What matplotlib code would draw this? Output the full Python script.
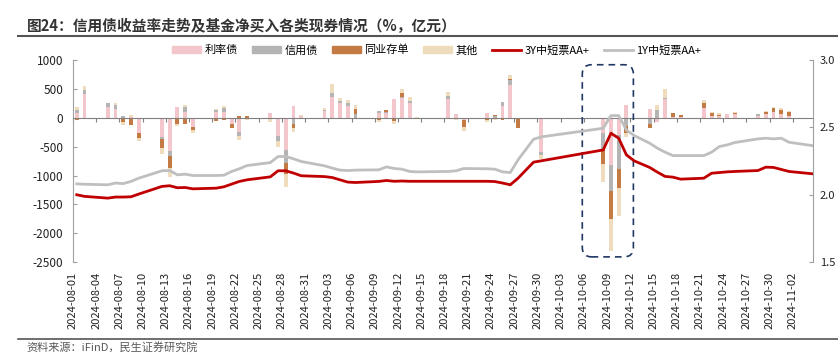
import numpy as np
import pandas as pd
import matplotlib
matplotlib.use('Agg')
import matplotlib.pyplot as plt
import matplotlib.dates as mdates
from matplotlib.patches import FancyBboxPatch, Patch
from matplotlib.lines import Line2D

plt.rcParams['font.family'] = ['Noto Sans CJK SC', 'DejaVu Sans']
plt.rcParams['axes.unicode_minus'] = False

# 交易日
dates = ['08-01', '08-02', '08-05', '08-06', '08-07', '08-08', '08-09',
         '08-12', '08-13', '08-14', '08-15', '08-16',
         '08-19', '08-20', '08-21', '08-22', '08-23',
         '08-26', '08-27', '08-28', '08-29', '08-30',
         '09-02', '09-03', '09-04', '09-05', '09-06',
         '09-09', '09-10', '09-11', '09-12', '09-13', '09-14',
         '09-18', '09-19', '09-20',
         '09-23', '09-24', '09-25', '09-26', '09-27', '09-29', '09-30',
         '10-08', '10-09', '10-10', '10-11', '10-12',
         '10-14', '10-15', '10-16', '10-17', '10-18',
         '10-21', '10-22', '10-23', '10-24', '10-25',
         '10-28', '10-29', '10-30', '10-31', '11-01', '11-04']

# 基金净买入（亿元）
rate_bond = [80, 420, 190, 160, 0, 20, -270,
             -330, -580, 190, 100, -155,
             100, 100, -100, -240, 0,
             80, -310, -560, 210, 30,
             115, 365, 260, 210, 0,
             85, 85, 325, 335, 250, 0,
             325, 60, -30,
             75, 0, 210, 565, 0, 0, -590,
             -260, -810, -290, 230, 0,
             160, -70, 318, 15, 10,
             175, 35, 30, 65, 60,
             30, 60, 105, 70, 35, 0]
credit_bond = [50, 60, 70, 70, 30, 0, 0,
               -40, -80, 0, 85, 0,
               30, 70, 0, -75, 0,
               0, -100, -230, -115, 0,
               20, 70, 40, 40, 60,
               35, 10, 0, 30, 40, 0,
               45, 0, 0,
               0, 30, 60, 85, 0, 0, -60,
               -275, -460, -600, -150, 0,
               -100, 130, 30, 0, 0,
               0, 0, 0, 0, 0,
               35, 0, 0, 0, 0, 0]
ncd = [-30, 0, 0, -20, -80, -130, -75,
       -150, -210, -110, -115, -60,
       -50, -30, -70, 30, 30,
       -20, 0, -175, -70, -15,
       -15, -25, -20, 15, 100,
       -30, 40, -50, 60, 0, 0,
       15, -25, -130,
       -40, 15, -40, 30, -175, -15, 0,
       -270, -490, -320, -110, 0,
       -75, 0, 0, 60, 40,
       90, 40, 15, 0, 15,
       0, 40, 60, 65, 70, 0]
other = [50, 75, -20, 35, -45, 30, -55,
         -100, -155, -30, 45, -55,
         15, 30, 0, -70, -40,
         -60, -100, -230, -55, 25,
         30, 150, 50, 40, 60,
         -50, -25, -65, 70, 65, 10,
         55, -15, -60,
         -25, -30, 0, 70, 0, 0, -60,
         -315, -550, -490, -70, 0,
         0, 100, 145, 0, -15,
         40, 30, 40, -15, 20,
         0, 20, 25, 35, 20, 0]

# 收益率（%）
y3_aa = [2.000, 1.988, 1.975, 1.983, 1.983, 1.985, 2.005,
         2.062, 2.067, 2.052, 2.054, 2.044,
         2.049, 2.059, 2.079, 2.099, 2.111,
         2.133, 2.178, 2.178, 2.161, 2.141,
         2.135, 2.128, 2.111, 2.094, 2.091,
         2.099, 2.106, 2.100, 2.102, 2.100, 2.100,
         2.100, 2.100, 2.100,
         2.100, 2.098, 2.087, 2.074, 2.123, 2.242, 2.252,
         2.333, 2.457, 2.420, 2.296, 2.252,
         2.203, 2.168, 2.136, 2.131, 2.116,
         2.123, 2.160, 2.165, 2.170, 2.173,
         2.180, 2.205, 2.203, 2.188, 2.173, 2.156]
y1_aa = [2.081, 2.078, 2.074, 2.087, 2.083, 2.099, 2.123,
         2.178, 2.180, 2.148, 2.153, 2.143,
         2.143, 2.145, 2.173, 2.193, 2.217,
         2.239, 2.284, 2.284, 2.267, 2.247,
         2.215, 2.198, 2.183, 2.180, 2.183,
         2.185, 2.207, 2.195, 2.190, 2.173, 2.170,
         2.173, 2.178, 2.195,
         2.193, 2.190, 2.170, 2.165, 2.259, 2.412, 2.430,
         2.494, 2.588, 2.588, 2.481, 2.440,
         2.383, 2.346, 2.316, 2.291, 2.291,
         2.291, 2.316, 2.358, 2.370, 2.388,
         2.415, 2.420, 2.415, 2.420, 2.390, 2.365]

x = pd.to_datetime(['2024-' + d for d in dates]) + pd.Timedelta(hours=12)

fig = plt.figure(figsize=(8.38, 3.6), dpi=100)
ax = fig.add_axes([0.087, 0.272, 0.883, 0.561])

series = [('利率债', rate_bond, '#F2C6CB'),
          ('信用债', credit_bond, '#B4B4B4'),
          ('同业存单', ncd, '#C47B43'),
          ('其他', other, '#EEDCBD')]
pos_base = np.zeros(len(x))
neg_base = np.zeros(len(x))
for name, vals, col in series:
    v = np.array(vals, dtype=float)
    bottom = np.where(v >= 0, pos_base, neg_base)
    ax.bar(x, v, width=0.5, bottom=bottom, color=col, linewidth=0, zorder=2)
    pos_base += np.clip(v, 0, None)
    neg_base += np.clip(v, None, 0)

ax.set_ylim(-2500, 1000)
ax.set_yticks(np.arange(-2500, 1001, 500))
ax.set_xlim(pd.Timestamp('2024-08-01'), pd.Timestamp('2024-11-04 14:00'))
ticks = pd.date_range('2024-08-01', '2024-11-02', freq='3D')
ax.set_xticks(ticks)
ax.xaxis.set_major_formatter(mdates.DateFormatter('%Y-%m-%d'))
ax.spines['bottom'].set_position(('data', 0))
ax.spines['bottom'].set_color('#808080')
ax.spines['top'].set_visible(False)
ax.spines['right'].set_visible(False)
ax.spines['left'].set_color('#A0A0A0')
ax.tick_params(axis='x', direction='out', length=3, color='#808080',
               pad=108, labelsize=8, labelrotation=90, labelcolor='#222222')
ax.tick_params(axis='y', direction='in', length=3, color='#A0A0A0',
               pad=7, labelsize=8.5, labelcolor='#222222')

ax2 = ax.twinx()
ax2.plot(x, y1_aa, color='#BFBFBF', lw=2)
ax2.plot(x, y3_aa, color='#C00000', lw=2)
ax2.set_ylim(1.5, 3.0)
ax2.set_yticks([1.5, 2.0, 2.5, 3.0])
ax2.yaxis.set_major_formatter(matplotlib.ticker.FormatStrFormatter('%.1f'))
for s in ['top', 'left', 'bottom']:
    ax2.spines[s].set_visible(False)
ax2.spines['right'].set_color('#A0A0A0')
ax2.tick_params(axis='y', direction='in', length=3, color='#A0A0A0',
                pad=5, labelsize=8, labelcolor='#222222')

# 虚线框：10月8日-11日
x0 = mdates.date2num(pd.Timestamp('2024-08-01')) + 65.8
x1 = mdates.date2num(pd.Timestamp('2024-08-01')) + 72.4
box = FancyBboxPatch((x0, -2410), x1 - x0, 2410 + 920,
                     boxstyle='round,pad=0,rounding_size=1.2',
                     mutation_aspect=134, fill=False, edgecolor='#203864',
                     lw=1.2, linestyle=(0, (4, 3)), zorder=5, clip_on=False)
ax.add_patch(box)

handles = [Patch(color=c, label=n) for n, _, c in series]
handles += [Line2D([], [], color='#C00000', lw=2, label='3Y中短票AA+'),
            Line2D([], [], color='#BFBFBF', lw=2, label='1Y中短票AA+')]
fig.legend(handles=handles, loc='center', bbox_to_anchor=(0.521, 0.861), ncol=6,
           frameon=False, fontsize=8, handlelength=2.6, handleheight=0.6,
           columnspacing=1.3, handletextpad=0.3)

fig.text(0.032, 0.928, '图24：信用债收益率走势及基金净买入各类现券情况（%，亿元）',
         fontsize=10.6, fontweight='bold', color='#333333', va='center')
fig.add_artist(Line2D([0.021, 1.0], [0.9, 0.9], color='#555555', lw=1.5))
fig.add_artist(Line2D([0.021, 1.0], [0.058, 0.058], color='#555555', lw=1.2))
fig.text(0.032, 0.034, '资料来源：iFinD，民生证券研究院', fontsize=8,
         color='#595959', va='center')

fig.savefig('out.png', dpi=100)
